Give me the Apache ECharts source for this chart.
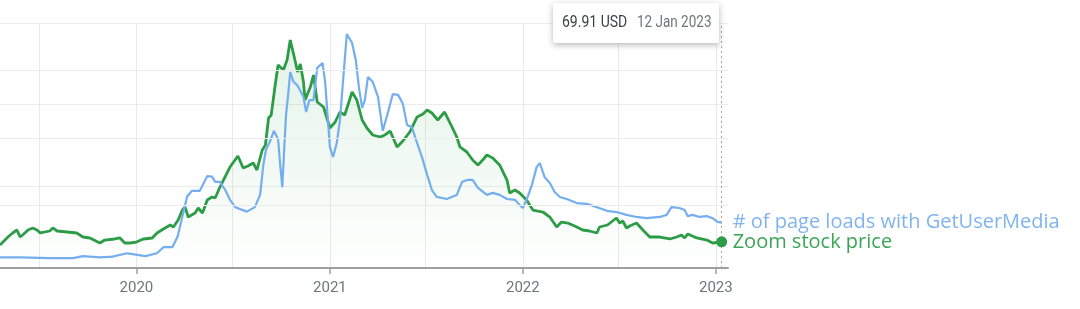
<!DOCTYPE html>
<html>
<head>
<meta charset="utf-8">
<script src="https://cdn.jsdelivr.net/npm/echarts@6/dist/echarts.min.js"></script>
<style>
html,body{margin:0;padding:0;background:#fff;}
#chart{width:1080px;height:309px;}
</style>
</head>
<body>
<div id="chart"></div>
<script>
// ---- Zoom stock price (USD) ----
const zoomDates = ['2019-04-18','2019-05-03','2019-05-12','2019-05-20','2019-05-26','2019-06-02','2019-06-10','2019-06-19','2019-06-27','2019-07-03','2019-07-21','2019-07-27','2019-08-04','2019-08-23','2019-09-10','2019-09-22','2019-10-05','2019-10-24','2019-11-02','2019-11-21','2019-12-01','2019-12-10','2019-12-20',
'2020-01-01','2020-01-14','2020-01-31','2020-02-09','2020-02-21','2020-03-05','2020-03-11','2020-03-20','2020-03-28','2020-04-02','2020-04-08','2020-04-21','2020-04-27','2020-05-05','2020-05-14','2020-05-23','2020-05-29','2020-06-07','2020-06-26','2020-07-11','2020-07-21','2020-07-30','2020-08-09','2020-08-16','2020-08-26','2020-09-01','2020-09-07','2020-09-12','2020-09-19','2020-09-25','2020-10-05','2020-10-12','2020-10-18','2020-10-26','2020-11-01','2020-11-06','2020-11-12','2020-11-15','2020-11-25','2020-12-01','2020-12-08','2020-12-20',
'2021-01-01','2021-01-11','2021-01-20','2021-01-29','2021-02-12','2021-02-21','2021-03-03','2021-03-12','2021-03-23','2021-04-06','2021-04-15','2021-04-25','2021-05-08','2021-05-19','2021-06-01','2021-06-15','2021-06-26','2021-07-04','2021-07-13','2021-07-24','2021-08-06','2021-08-20','2021-08-29','2021-09-04','2021-09-17','2021-09-28','2021-10-08','2021-10-17','2021-10-25','2021-11-05','2021-11-18','2021-12-02','2021-12-07','2021-12-17','2021-12-26',
'2022-01-08','2022-01-20','2022-02-08','2022-02-21','2022-03-06','2022-03-15','2022-03-27','2022-04-13','2022-04-24','2022-05-07','2022-05-21','2022-05-26','2022-06-10','2022-06-27','2022-07-03','2022-07-09','2022-07-16','2022-07-22','2022-08-04','2022-08-16','2022-08-29','2022-09-17','2022-10-06','2022-10-19','2022-10-28','2022-11-03','2022-11-09','2022-11-26','2022-12-15','2022-12-26','2023-01-12'];
const zoomPrice = [63.0,80.7,89.6,96.2,80.7,87.4,96.2,100.7,96.2,89.6,94.0,100.7,94.0,91.8,89.6,80.7,78.5,67.4,74.0,76.3,78.5,67.4,67.4,
69.6,76.3,78.5,89.6,98.4,107.3,102.9,118.4,140.5,147.2,125.0,133.9,145.0,133.9,162.7,169.4,167.1,191.5,235.8,260.2,233.6,238.0,244.7,229.2,273.5,284.6,344.4,351.1,413.2,461.9,450.8,473.0,517.3,477.4,446.4,464.1,424.2,384.3,413.2,439.7,379.9,368.8,
322.3,335.6,357.7,351.1,402.1,384.3,340.0,322.3,306.8,302.3,306.8,315.6,280.2,293.5,313.4,346.7,353.3,362.2,355.5,340.0,357.7,324.5,302.3,280.2,269.1,251.4,240.3,251.4,262.4,255.8,240.3,207.0,178.2,184.9,178.2,
162.7,140.5,136.1,125.0,102.9,113.9,111.7,102.9,96.2,94.0,89.6,102.9,107.3,122.8,111.7,116.2,100.7,105.1,111.7,96.2,80.7,80.7,76.3,80.7,85.1,78.5,87.4,78.5,74.0,67.4,69.91];

// ---- # of page loads with GetUserMedia (% of page loads) ----
const gumDates = ['2019-04-18','2019-05-26','2019-07-21','2019-09-03','2019-09-22','2019-10-24','2019-11-17','2019-12-14','2019-12-25',
'2020-01-18','2020-02-09','2020-02-21','2020-03-09','2020-03-19','2020-03-28','2020-04-06','2020-04-15','2020-04-30','2020-05-14','2020-05-23','2020-05-29','2020-06-07','2020-06-17','2020-06-26','2020-07-06','2020-07-28','2020-08-12','2020-08-22','2020-08-28','2020-09-02','2020-09-10','2020-09-17','2020-09-25','2020-09-29','2020-10-03','2020-10-06','2020-10-10','2020-10-14','2020-10-18','2020-10-24','2020-10-31','2020-11-06','2020-11-12','2020-11-17','2020-11-23','2020-12-01','2020-12-08','2020-12-18','2020-12-23','2020-12-29',
'2021-01-01','2021-01-07','2021-01-14','2021-01-20','2021-01-26','2021-02-02','2021-02-12','2021-02-19','2021-02-25','2021-03-03','2021-03-08','2021-03-14','2021-03-23','2021-04-02','2021-04-11','2021-04-21','2021-04-30','2021-05-10','2021-05-19','2021-05-27','2021-06-05','2021-06-15','2021-06-24','2021-07-04','2021-07-13','2021-07-22','2021-08-10','2021-08-29','2021-09-08','2021-09-19','2021-09-28','2021-10-08','2021-10-25','2021-11-05','2021-11-18','2021-12-02','2021-12-17','2021-12-26',
'2022-01-01','2022-01-08','2022-01-18','2022-01-27','2022-02-02','2022-02-11','2022-02-21','2022-03-02','2022-03-12','2022-03-25','2022-04-13','2022-05-02','2022-05-21','2022-06-09','2022-06-27','2022-07-16','2022-08-04','2022-08-23','2022-09-17','2022-09-30','2022-10-09','2022-10-24','2022-11-03','2022-11-09','2022-11-18','2022-12-01','2022-12-15','2022-12-26','2023-01-04','2023-01-12'];
const gumLoads = [0.026,0.026,0.024,0.024,0.029,0.026,0.028,0.036,0.034,
0.029,0.036,0.051,0.051,0.077,0.126,0.175,0.189,0.189,0.225,0.224,0.211,0.211,0.191,0.167,0.149,0.138,0.149,0.179,0.252,0.289,0.311,0.336,0.316,0.252,0.198,0.277,0.375,0.424,0.480,0.456,0.448,0.434,0.419,0.382,0.411,0.411,0.490,0.502,0.456,0.350,
0.296,0.272,0.306,0.362,0.460,0.573,0.551,0.509,0.441,0.392,0.411,0.468,0.456,0.419,0.336,0.382,0.426,0.424,0.402,0.350,0.345,0.306,0.272,0.228,0.191,0.174,0.169,0.179,0.211,0.216,0.216,0.196,0.179,0.184,0.179,0.169,0.167,0.154,
0.147,0.167,0.203,0.247,0.257,0.223,0.208,0.186,0.174,0.169,0.159,0.157,0.149,0.140,0.137,0.130,0.125,0.122,0.125,0.130,0.149,0.147,0.142,0.127,0.130,0.125,0.127,0.122,0.113,0.111];

// ---- axis ticks ----
const yearTicks = ['2020-01-01','2021-01-01','2022-01-01','2023-01-01'];
const halfYearTicks = ['2019-07-01','2020-01-01','2020-07-01','2021-01-01','2021-07-01','2022-01-01','2022-07-01','2023-01-01'];
const priceGridLines = [150, 300, 450];
const xStart = '2019-04-18';
const xEnd = '2023-01-24';

const ts = d => new Date(d + 'T00:00:00').getTime();
const GREEN = '#2d9c46';
const BLUE = '#74aeee';
const lastIdx = zoomDates.length - 1;
const MONTHS = ['Jan','Feb','Mar','Apr','May','Jun','Jul','Aug','Sep','Oct','Nov','Dec'];

const chart = echarts.init(document.getElementById('chart'), null, {renderer: 'canvas'});
chart.setOption({
  animation: false,
  backgroundColor: '#fff',
  grid: {left: 0, right: 352, top: 23, bottom: 41, containLabel: false},
  xAxis: [
    {
      type: 'value', min: ts(xStart), max: ts(xEnd), scale: true,
      axisLine: {show: true, lineStyle: {color: '#9e9e9e', width: 2}},
      axisTick: {show: true, length: 6, lineStyle: {color: '#9e9e9e', width: 1.5}, customValues: yearTicks.map(ts)},
      axisLabel: {customValues: yearTicks.map(ts), formatter: v => String(new Date(v).getFullYear()), color: '#70757a', fontSize: 15, fontFamily: 'Roboto', margin: 13},
      splitLine: {show: false}
    },
    {
      type: 'value', min: ts(xStart), max: ts(xEnd), scale: true, position: 'bottom',
      axisLine: {show: false}, axisLabel: {show: false, customValues: halfYearTicks.map(ts)},
      axisTick: {show: false, customValues: halfYearTicks.map(ts)},
      splitLine: {show: true, lineStyle: {color: '#e9e9e9', width: 1}}
    }
  ],
  yAxis: [
    {type: 'value', min: 12, max: 555, axisLine: {show: false}, axisTick: {show: false}, axisLabel: {show: false}, splitLine: {show: false}},
    {type: 'value', min: 0, max: 0.6, interval: 0.2, axisLine: {show: false}, axisTick: {show: false}, axisLabel: {show: false}, splitLine: {show: true, lineStyle: {color: '#ececec', width: 1}}}
  ],
  series: [
    {
      name: 'Zoom stock price', type: 'line', yAxisIndex: 0, xAxisIndex: 0, z: 3,
      data: zoomDates.map((d, i) => [ts(d), zoomPrice[i]]),
      showSymbol: false, symbol: 'none',
      lineStyle: {color: GREEN, width: 2.8},
      itemStyle: {color: GREEN},
      areaStyle: {color: new echarts.graphic.LinearGradient(0, 0, 0, 1, [
        {offset: 0, color: 'rgba(52,168,83,0.20)'},
        {offset: 1, color: 'rgba(52,168,83,0.0)'}
      ])},
      endLabel: {show: true, formatter: '{a}', color: '#3aa655', fontSize: 20, fontFamily: 'Open Sans', distance: 11},
      markLine: {
        silent: true, symbol: 'none', label: {show: false},
        lineStyle: {color: '#ececec', width: 1, type: 'solid'},
        data: priceGridLines.map(v => ({yAxis: v})).concat([
          {xAxis: ts(zoomDates[lastIdx]), lineStyle: {color: '#a6a6a6', width: 1, type: [2, 3]}}
        ])
      },
      markPoint: {
        symbol: 'circle', symbolSize: 11, label: {show: false},
        itemStyle: {color: GREEN},
        data: [{coord: [ts(zoomDates[lastIdx]), zoomPrice[lastIdx]]}]
      }
    },
    {
      name: '# of page loads with GetUserMedia', type: 'line', yAxisIndex: 1, xAxisIndex: 0, z: 4,
      data: gumDates.map((d, i) => [ts(d), gumLoads[i]]),
      showSymbol: false, symbol: 'none',
      lineStyle: {color: BLUE, width: 2.2},
      itemStyle: {color: BLUE},
      endLabel: {show: true, formatter: '{a}', color: '#80b4ee', fontSize: 20, fontFamily: 'Open Sans', distance: 11}
    }
  ],
  graphic: [
    {type: 'rect', z: 100, shape: {x: 553, y: 3, width: 166, height: 40, r: 2},
     style: {fill: '#ffffff', shadowBlur: 6, shadowColor: 'rgba(0,0,0,0.28)', shadowOffsetY: 2}},
    {type: 'text', z: 101, x: 562, y: 23, scaleY: 1.2,
     style: {text: zoomPrice[lastIdx].toFixed(2) + ' USD', fill: '#3c4043', font: '14px Roboto', verticalAlign: 'middle'}},
    {type: 'text', z: 101, x: 637, y: 23, scaleY: 1.2,
     style: {text: (() => { const d = new Date(ts(zoomDates[lastIdx])); return d.getDate() + ' ' + MONTHS[d.getMonth()] + ' ' + d.getFullYear(); })(),
       fill: '#70757a', font: '13.5px Roboto', verticalAlign: 'middle'}}
  ]
});
</script>
</body>
</html>
